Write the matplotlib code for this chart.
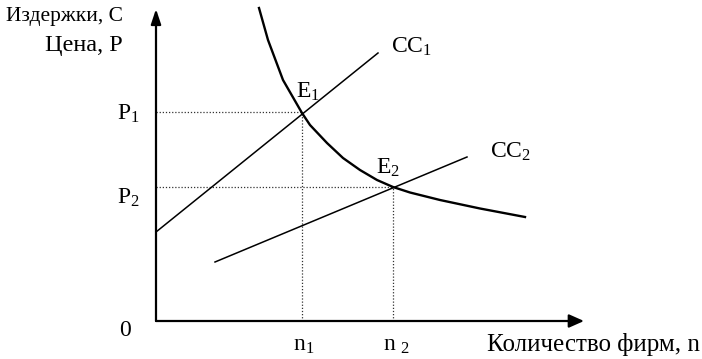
import matplotlib
matplotlib.use("Agg")
import matplotlib.pyplot as plt

plt.rcParams['font.family'] = ['Liberation Serif', 'DejaVu Serif']
plt.rcParams['mathtext.fontset'] = 'custom'
plt.rcParams['mathtext.rm'] = 'Liberation Serif'
plt.rcParams['mathtext.it'] = 'Liberation Serif:italic'

# Data (arbitrary units, origin at axes corner)
curve_n = [103, 112, 127, 146, 154, 171, 187, 204, 221, 237, 254, 284, 324, 369]
curve_c = [313, 281, 241, 208, 196, 178, 163, 151, 141, 134, 128.5, 121, 112.5, 104]
cc1_n = [0, 222]
cc1_c = [89, 268]
cc2_n = [59, 311]
cc2_c = [59, 164]
eq_n = [146, 237]   # n1, n2
eq_p = [209, 134]   # P1, P2
x_max = 428
y_max = 312

fig = plt.figure(figsize=(7.02, 3.59), dpi=100)
ax = fig.add_axes([0, 0, 1, 1])
ax.set_xlim(-156, 546)
ax.set_ylim(-38, 321)
ax.axis('off')

# axes with arrows
ax.annotate('', xy=(0, y_max), xytext=(0, 0),
            arrowprops=dict(arrowstyle='-|>,head_length=0.9,head_width=0.3',
                            color='black', lw=1.6, shrinkA=0, shrinkB=0))
ax.annotate('', xy=(x_max, 0), xytext=(0, 0),
            arrowprops=dict(arrowstyle='-|>,head_length=0.9,head_width=0.4',
                            color='black', lw=1.6, shrinkA=0, shrinkB=0))

dot = dict(color='#333333', lw=0.9, linestyle=(0, (1, 1.5)))
for n, p in zip(eq_n, eq_p):
    ax.plot([0, n], [p, p], **dot)
    ax.plot([n, n], [0, p], **dot)

ax.plot(cc1_n, cc1_c, color='black', lw=1.1)
ax.plot(cc2_n, cc2_c, color='black', lw=1.1)
ax.plot(curve_n, curve_c, color='black', lw=1.7, solid_joinstyle='round')

fs = 17
ax.text(-33, 304, 'Издержки, C', fontsize=15.5, ha='right', va='center')
ax.text(-33, 276, 'Цена, P', fontsize=17.5, ha='right', va='center')
ax.text(-16, 207, r'P$_{\mathrm{1}}$', fontsize=fs, ha='right', va='center')
ax.text(-16, 123, r'P$_{\mathrm{2}}$', fontsize=fs, ha='right', va='center')
ax.text(-25, -10, '0', fontsize=fs, ha='right', va='center')
ax.text(137, -24, r'n$_{\mathrm{1}}$', fontsize=fs, ha='left', va='center')
ax.text(227, -24, r'n $_{\mathrm{2}}$', fontsize=fs, ha='left', va='center')
ax.text(331, -24, 'Количество фирм, n', fontsize=18, ha='left', va='center')
ax.text(140, 229, r'E$_{\mathrm{1}}$', fontsize=fs, ha='left', va='center')
ax.text(220, 153, r'E$_{\mathrm{2}}$', fontsize=fs, ha='left', va='center')
ax.text(235, 274, r'CC$_{\mathrm{1}}$', fontsize=fs, ha='left', va='center')
ax.text(334, 169, r'CC$_{\mathrm{2}}$', fontsize=fs, ha='left', va='center')

fig.savefig('out.png', dpi=100)
